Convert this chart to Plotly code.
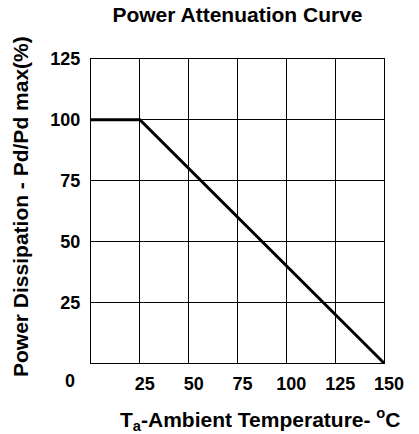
import plotly.graph_objects as go

# Data
temperature = [0, 25, 150]          # Ambient temperature (°C)
power_pct = [100, 100, 0]            # Pd/Pd max (%)
x_ticks = [25, 50, 75, 100, 125, 150]
y_ticks = [25, 50, 75, 100, 125]

FONT = "Liberation Sans, Arial, Helvetica, sans-serif"
W, H = 419, 434
L, R, T, B = 91, 35, 59, 71
PW, PH = W - L - R, H - T - B

fig = go.Figure(
    go.Scatter(
        x=temperature, y=power_pct, mode="lines",
        line=dict(color="black", width=3),
        hoverinfo="skip",
    )
)

fig.update_layout(
    width=W, height=H,
    margin=dict(l=L, r=R, t=T, b=B),
    paper_bgcolor="white", plot_bgcolor="white",
    showlegend=False,
    title=dict(
        text="<b>Power Attenuation Curve</b>",
        x=0.5, xref="paper", xanchor="center",
        y=1 - 15 / H, yref="container", yanchor="middle",
        font=dict(family=FONT, size=21, color="black"),
    ),
)

fig.update_xaxes(
    range=[0, 150], tickvals=x_ticks, ticktext=[str(v) for v in x_ticks],
    showgrid=True, gridcolor="black", gridwidth=1,
    showline=True, linecolor="black", linewidth=1, mirror=True,
    zeroline=False, ticks="",
    ticklabelstandoff=4, ticklabelshift=5,
    tickfont=dict(family=FONT, size=18, color="black", weight="bold"),
)
fig.update_yaxes(
    range=[0, 125], tickvals=y_ticks, ticktext=[str(v) for v in y_ticks],
    showgrid=True, gridcolor="black", gridwidth=1,
    showline=True, linecolor="black", linewidth=1, mirror=True,
    zeroline=False, ticks="",
    ticklabelstandoff=6,
    tickfont=dict(family=FONT, size=18, color="black", weight="bold"),
)

# Shared origin label "0"
fig.add_annotation(
    text="<b>0</b>", xref="paper", yref="paper",
    x=(70 - L) / PW, y=-(381 - (H - B)) / PH,
    xanchor="center", yanchor="middle", showarrow=False,
    font=dict(family=FONT, size=18, color="black"),
)
# X axis title
fig.add_annotation(
    text="<b>T<sub>a</sub>-Ambient Temperature- <sup>o</sup>C</b>",
    xref="paper", yref="paper",
    x=(259.5 - L) / PW, y=-(419 - (H - B)) / PH,
    xanchor="center", yanchor="middle", showarrow=False,
    font=dict(family=FONT, size=21, color="black"),
)
# Y axis title
fig.add_annotation(
    text="<b>Power Dissipation - Pd/Pd max(%)</b>",
    xref="paper", yref="paper",
    x=(20 - L) / PW, y=((H - B) - 207) / PH,
    xanchor="center", yanchor="middle", showarrow=False, textangle=-90,
    font=dict(family=FONT, size=21, color="black"),
)

fig.write_html(
    "out.html",
    config={"displayModeBar": False, "staticPlot": True},
    post_script="document.body.style.margin='0';document.body.style.padding='0';",
)
